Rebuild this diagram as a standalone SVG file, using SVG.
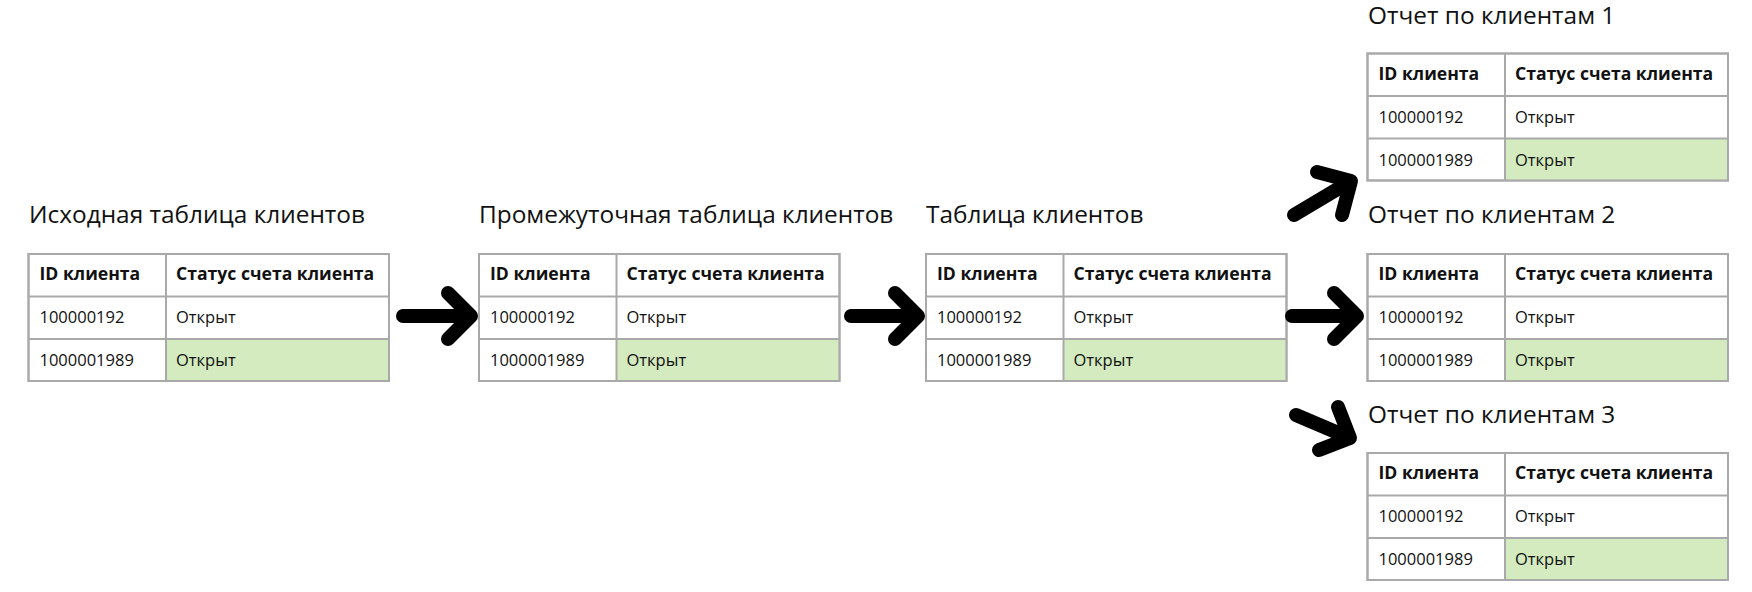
<svg xmlns="http://www.w3.org/2000/svg" width="1752" height="592" viewBox="0 0 1752 592">
<style>
.bg{fill:#ffffff}
.title{font-family:"Open Sans","Noto Sans",sans-serif;font-size:24.4px;fill:#111111}
.hd{font-family:"Open Sans","Noto Sans",sans-serif;font-size:17.6px;font-weight:bold;fill:#111111}
.cell{font-family:"Open Sans","Noto Sans",sans-serif;font-size:16.5px;fill:#111111}
.frame{fill:#ffffff;stroke:#a9a9a9;stroke-width:2}
.frame2{fill:none;stroke:#a9a9a9;stroke-width:2}
.green{fill:#d3ebbf}
.grid{stroke:#a9a9a9;stroke-width:2;fill:none}
.arrow{fill:none;stroke:#000000;stroke-width:14;stroke-linecap:round;stroke-linejoin:round}
</style>
<rect class="bg" x="0" y="0" width="1752" height="592"/>

<g id="source-table">
<text class="title" x="29" y="223">Исходная таблица клиентов</text>
<rect class="frame" x="28.5" y="254" width="360.5" height="127"/>
<rect class="green" x="166" y="339" width="222" height="41"/>
<path class="grid" d="M166,254V381M28.5,296.5H389M28.5,339H389"/>
<rect class="frame2" x="28.5" y="254" width="360.5" height="127"/>
<text class="hd" x="39.5" y="280">ID клиента</text>
<text class="hd" x="176" y="280">Статус счета клиента</text>
<text class="cell" x="39.5" y="323">100000192</text>
<text class="cell" x="176" y="323">Открыт</text>
<text class="cell" x="39.5" y="366">1000001989</text>
<text class="cell" x="176" y="366">Открыт</text>
</g>

<g id="intermediate-table">
<text class="title" x="479" y="223">Промежуточная таблица клиентов</text>
<rect class="frame" x="479" y="254" width="360.5" height="127"/>
<rect class="green" x="616.5" y="339" width="222" height="41"/>
<path class="grid" d="M616.5,254V381M479,296.5H839.5M479,339H839.5"/>
<rect class="frame2" x="479" y="254" width="360.5" height="127"/>
<text class="hd" x="490" y="280">ID клиента</text>
<text class="hd" x="626.5" y="280">Статус счета клиента</text>
<text class="cell" x="490" y="323">100000192</text>
<text class="cell" x="626.5" y="323">Открыт</text>
<text class="cell" x="490" y="366">1000001989</text>
<text class="cell" x="626.5" y="366">Открыт</text>
</g>

<g id="client-table">
<text class="title" x="926" y="223">Таблица клиентов</text>
<rect class="frame" x="926" y="254" width="360.5" height="127"/>
<rect class="green" x="1063.5" y="339" width="222" height="41"/>
<path class="grid" d="M1063.5,254V381M926,296.5H1286.5M926,339H1286.5"/>
<rect class="frame2" x="926" y="254" width="360.5" height="127"/>
<text class="hd" x="937" y="280">ID клиента</text>
<text class="hd" x="1073.5" y="280">Статус счета клиента</text>
<text class="cell" x="937" y="323">100000192</text>
<text class="cell" x="1073.5" y="323">Открыт</text>
<text class="cell" x="937" y="366">1000001989</text>
<text class="cell" x="1073.5" y="366">Открыт</text>
</g>

<g id="report-1">
<text class="title" x="1368" y="24">Отчет по клиентам 1</text>
<rect class="frame" x="1367.5" y="53.5" width="360.5" height="127"/>
<rect class="green" x="1505" y="138.5" width="222" height="41"/>
<path class="grid" d="M1505,53.5V180.5M1367.5,96H1728M1367.5,138.5H1728"/>
<rect class="frame2" x="1367.5" y="53.5" width="360.5" height="127"/>
<text class="hd" x="1378.5" y="79.5">ID клиента</text>
<text class="hd" x="1515" y="79.5">Статус счета клиента</text>
<text class="cell" x="1378.5" y="122.5">100000192</text>
<text class="cell" x="1515" y="122.5">Открыт</text>
<text class="cell" x="1378.5" y="165.5">1000001989</text>
<text class="cell" x="1515" y="165.5">Открыт</text>
</g>

<g id="report-2">
<text class="title" x="1368" y="223">Отчет по клиентам 2</text>
<rect class="frame" x="1367.5" y="254" width="360.5" height="127"/>
<rect class="green" x="1505" y="339" width="222" height="41"/>
<path class="grid" d="M1505,254V381M1367.5,296.5H1728M1367.5,339H1728"/>
<rect class="frame2" x="1367.5" y="254" width="360.5" height="127"/>
<text class="hd" x="1378.5" y="280">ID клиента</text>
<text class="hd" x="1515" y="280">Статус счета клиента</text>
<text class="cell" x="1378.5" y="323">100000192</text>
<text class="cell" x="1515" y="323">Открыт</text>
<text class="cell" x="1378.5" y="366">1000001989</text>
<text class="cell" x="1515" y="366">Открыт</text>
</g>

<g id="report-3">
<text class="title" x="1368" y="423">Отчет по клиентам 3</text>
<rect class="frame" x="1367.5" y="453" width="360.5" height="127"/>
<rect class="green" x="1505" y="538" width="222" height="41"/>
<path class="grid" d="M1505,453V580M1367.5,495.5H1728M1367.5,538H1728"/>
<rect class="frame2" x="1367.5" y="453" width="360.5" height="127"/>
<text class="hd" x="1378.5" y="479">ID клиента</text>
<text class="hd" x="1515" y="479">Статус счета клиента</text>
<text class="cell" x="1378.5" y="522">100000192</text>
<text class="cell" x="1515" y="522">Открыт</text>
<text class="cell" x="1378.5" y="565">1000001989</text>
<text class="cell" x="1515" y="565">Открыт</text>
</g>

<g id="connectors">
<path class="arrow" d="M403,316H471M448,293L471,316L448,339"/>
<path class="arrow" d="M851,316H918M895,293L918,316L895,339"/>
<path class="arrow" d="M1292,316H1357M1334,293L1357,316L1334,339"/>
<path class="arrow" d="M1294,215L1351,181M1317,172L1351,181L1342,215"/>
<path class="arrow" d="M1296,415L1350,438M1338,407L1350,438L1319,450"/>
</g>
</svg>
